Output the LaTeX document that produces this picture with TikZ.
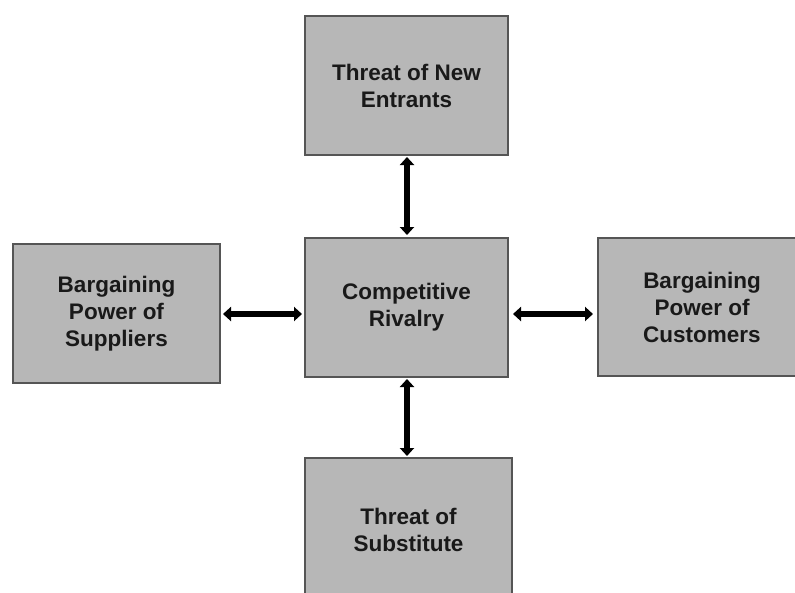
\documentclass[tikz,border=0pt]{standalone}
\usepackage{fontspec}
\setmainfont{Liberation Sans}
\usetikzlibrary{arrows.meta}
\definecolor{boxfill}{RGB}{183,183,183}
\definecolor{boxline}{RGB}{85,85,85}
\tikzset{
  force/.style={draw=boxline, line width=1.5pt, fill=boxfill, align=center,
    font=\bfseries\fontsize{22.5}{27}\selectfont, text=black!90, inner sep=0pt},
  link/.style={line width=6pt, {Triangle[width=14pt,length=8pt]}-{Triangle[width=14pt,length=8pt]}, black}
}
\begin{document}
\begin{tikzpicture}[x=1pt,y=-1pt]
\useasboundingbox (0,0) rectangle (795,592);
\clip (0,0) rectangle (795,592);
\node[force, minimum width=203pt, minimum height=139pt] (top) at (406.5,85.5) {Threat of New\\Entrants};
\node[force, minimum width=203pt, minimum height=139pt] (mid) at (406.5,307.5) {Competitive\\Rivalry};
\node[force, minimum width=207pt, minimum height=139pt] (left) at (116.5,313.5) {Bargaining\\Power of\\Suppliers};
\node[force, minimum width=208pt, minimum height=138pt] (right) at (702,307) {Bargaining\\Power of\\Customers};
\node[force, minimum width=207pt, minimum height=144pt] (bot) at (408.5,530) {Threat of\\Substitute};
\coordinate (t1) at (407,157);
\coordinate (t2) at (407,235);
\coordinate (b1) at (407,379);
\coordinate (b2) at (407,456);
\coordinate (l1) at (223,314);
\coordinate (l2) at (302,314);
\coordinate (r1) at (513,314);
\coordinate (r2) at (593,314);
\draw[link] (t1) -- (t2);
\draw[link] (b1) -- (b2);
\draw[link] (l1) -- (l2);
\draw[link] (r1) -- (r2);
\end{tikzpicture}
\end{document}
